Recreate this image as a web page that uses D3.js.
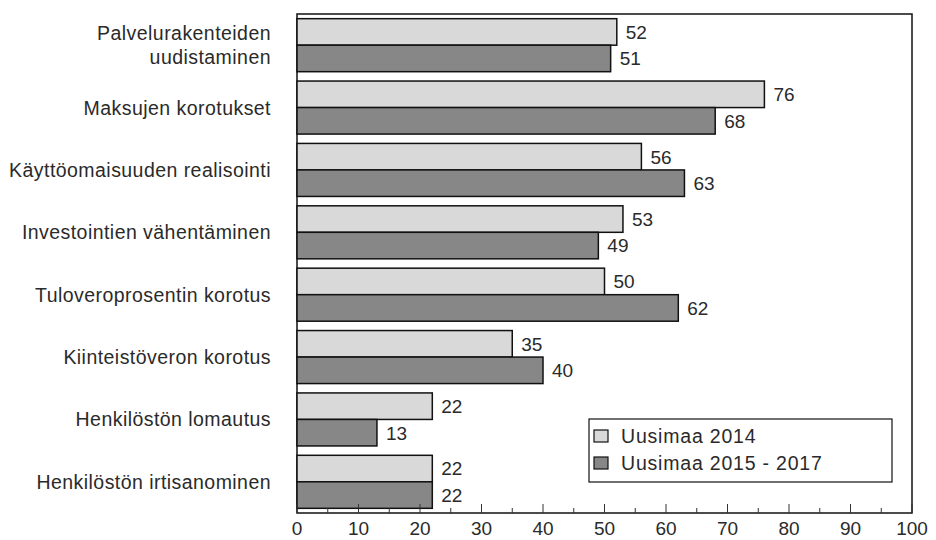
<!DOCTYPE html>
<html><head><meta charset="utf-8">
<script src="https://cdn.jsdelivr.net/npm/d3@7"></script>
<style>body{margin:0;background:#fff}svg{display:block}text{font-family:"Liberation Sans",Arial,sans-serif;fill:#2a2a2a}</style>
</head><body><svg id="c" width="936" height="540"></svg>
<script>
const categories = [["Palvelurakenteiden","uudistaminen"],["Maksujen korotukset"],["Käyttöomaisuuden realisointi"],["Investointien vähentäminen"],["Tuloveroprosentin korotus"],["Kiinteistöveron korotus"],["Henkilöstön lomautus"],["Henkilöstön irtisanominen"]];
const series2014 = [52,76,56,53,50,35,22,22];
const series2015 = [51,68,63,49,62,40,13,22];
const seriesNames = ["Uusimaa 2014","Uusimaa 2015 - 2017"];
const xTicks = [0,10,20,30,40,50,60,70,80,90,100];
const colors = ["#d9d9d9","#878787"];

const svg = d3.select("#c");
const L=297,R=912,T=14,B=513;
const x = d3.scaleLinear().domain([0,100]).range([L,R]);
const y = d3.scaleBand().domain(d3.range(categories.length)).range([T,B]).paddingInner(0.15).paddingOuter(0.075);
const ySub = d3.scaleBand().domain([0,1]).range([0,y.bandwidth()]);

// frame
svg.append("rect").attr("x",L).attr("y",T).attr("width",R-L).attr("height",B-T).attr("fill","none").attr("stroke","#111").attr("stroke-width",1.5);

const data = [series2014, series2015];
data.forEach((s,si)=>{
  svg.append("g").selectAll("rect").data(s).join("rect")
    .attr("x",x(0)).attr("y",(d,i)=>y(i)+ySub(si))
    .attr("width",d=>x(d)-x(0)).attr("height",ySub.bandwidth())
    .attr("fill",colors[si]).attr("stroke","#111").attr("stroke-width",1.5);
  svg.append("g").selectAll("text").data(s).join("text")
    .attr("x",d=>x(d)+9).attr("y",(d,i)=>y(i)+ySub(si)+ySub.bandwidth()/2)
    .attr("dy","0.36em").attr("font-size",19).text(d=>d);
});

// category labels
categories.forEach((c,i)=>{
  const t = svg.append("text").attr("text-anchor","end").attr("font-size",19.5).attr("letter-spacing",0.45).attr("x",271);
  const cy = y(i)+y.bandwidth()/2;
  c.forEach((line,j)=>{
    t.append("tspan").attr("x",271).attr("y",cy + (j-(c.length-1)/2)*24).attr("dy","0.36em").text(line);
  });
});

// x axis
const minor = d3.range(5,100,10);
svg.append("g").selectAll("line").data(minor).join("line")
  .attr("x1",d=>x(d)).attr("x2",d=>x(d)).attr("y1",B).attr("y2",B-5).attr("stroke","#333");
svg.append("g").selectAll("line").data(xTicks).join("line")
  .attr("x1",d=>x(d)).attr("x2",d=>x(d)).attr("y1",B).attr("y2",B-9).attr("stroke","#333");
svg.append("g").selectAll("text").data(xTicks).join("text")
  .attr("x",d=>x(d)).attr("y",528).attr("dy","0.36em").attr("text-anchor","middle").attr("font-size",19).text(d=>d);

// legend
const lg = svg.append("g");
lg.append("rect").attr("x",589).attr("y",419).attr("width",303).attr("height",63).attr("fill","#fff").attr("stroke","#111").attr("stroke-width",1.2);
seriesNames.forEach((n,i)=>{
  const cy = 436 + i*27;
  lg.append("rect").attr("x",594).attr("y",cy-6).attr("width",14).attr("height",12).attr("fill",colors[i]).attr("stroke","#111").attr("stroke-width",1.2);
  lg.append("text").attr("x",621).attr("y",cy).attr("dy","0.36em").attr("font-size",19.5).attr("letter-spacing",0.8).text(n);
});
</script></body></html>
